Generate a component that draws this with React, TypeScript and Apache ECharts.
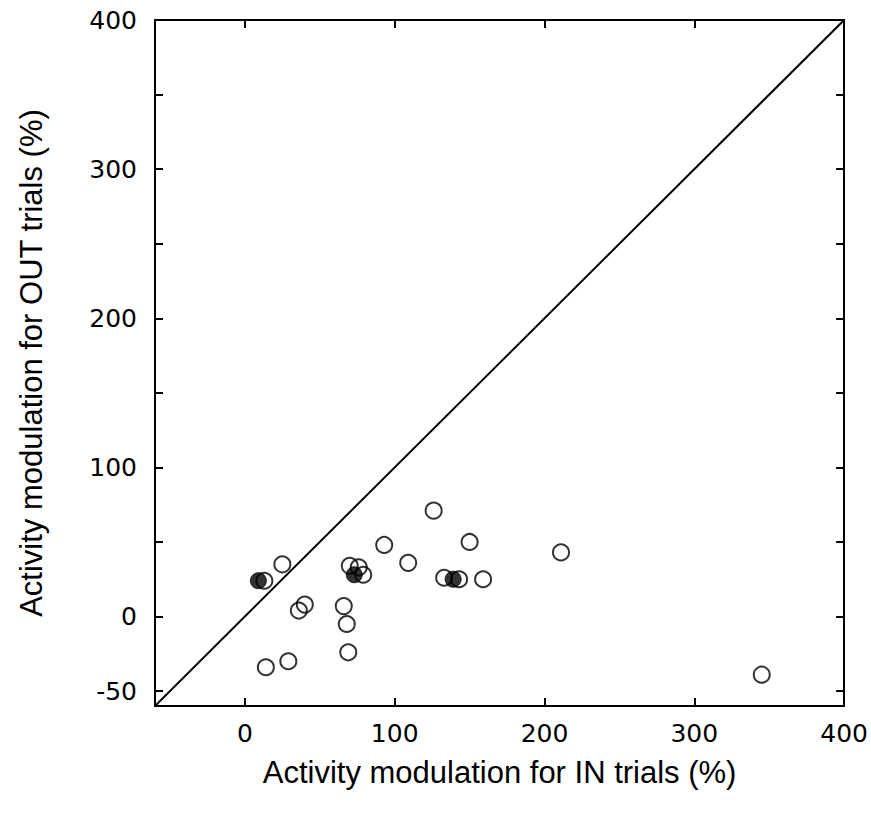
import React, { useEffect, useRef } from "react";
import * as echarts from "echarts";

const xTickValues = [0, 100, 200, 300];
const xLabelValues = [0, 100, 200, 300, 400];
const yTickValues = [-50, 0, 50, 100, 150, 200, 250, 300, 350];
const yLabelValues = [-50, 0, 100, 200, 300, 400];

const openPoints: [number, number][] = [
  [13, 24], [25, 35], [36, 4], [40, 8], [66, 7], [68, -5], [69, -24],
  [14, -34], [29, -30], [70, 34], [76, 33], [79, 28], [93, 48], [109, 36],
  [126, 71], [150, 50], [133, 26], [143, 25], [159, 25], [211, 43], [345, -39],
];
const filledPoints: [number, number][] = [[9, 24], [73, 28], [139, 25]];
const diagonal: [number, number][] = [[-60, -60], [400, 400]];

const TITLE_FONT = "'Liberation Sans', Arial, sans-serif";
const TICK_FONT = "'DejaVu Sans', sans-serif";

export default function App() {
  const ref = useRef<HTMLDivElement>(null);
  useEffect(() => {
    if (!ref.current) return;
    const chart = echarts.init(ref.current, null, { renderer: "svg" });
    const axisLine = { show: true, onZero: false, lineStyle: { color: "#000", width: 2 } };
    const tickStyle = { color: "#000", width: 2 };
    chart.setOption({
      animation: false,
      backgroundColor: "#fff",
      grid: { left: 155, top: 20, right: 25, bottom: 112, containLabel: false },
      xAxis: [
        {
          type: "value", min: -60, max: 400, position: "bottom",
          axisLine,
          axisTick: { show: true, inside: true, length: 8, customValues: xTickValues, lineStyle: tickStyle },
          axisLabel: { customValues: xLabelValues, fontSize: 25, color: "#000", fontFamily: TICK_FONT, margin: 15 },
          splitLine: { show: false },
          name: "Activity modulation for IN trials (%)",
          nameLocation: "middle", nameGap: 51,
          nameTextStyle: { fontSize: 31, color: "#000", fontFamily: TITLE_FONT },
        },
        {
          type: "value", min: -60, max: 400, position: "top",
          axisLine,
          axisTick: { show: true, inside: true, length: 8, customValues: xTickValues, lineStyle: tickStyle },
          axisLabel: { show: false },
          splitLine: { show: false },
        },
      ],
      yAxis: [
        {
          type: "value", min: -60, max: 400, position: "left",
          axisLine,
          axisTick: { show: true, inside: true, length: 8, customValues: yTickValues, lineStyle: tickStyle },
          axisLabel: { customValues: yLabelValues, fontSize: 25, color: "#000", fontFamily: TICK_FONT, margin: 18 },
          splitLine: { show: false },
          name: "Activity modulation for OUT trials (%)",
          nameLocation: "middle", nameGap: 108, nameRotate: 90,
          nameTextStyle: { fontSize: 31, color: "#000", fontFamily: TITLE_FONT },
        },
        {
          type: "value", min: -60, max: 400, position: "right",
          axisLine,
          axisTick: { show: true, inside: true, length: 8, customValues: yTickValues, lineStyle: tickStyle },
          axisLabel: { show: false },
          splitLine: { show: false },
        },
      ],
      series: [
        {
          type: "line", data: diagonal, symbol: "none", silent: true,
          lineStyle: { color: "#000", width: 2 },
          xAxisIndex: 0, yAxisIndex: 0,
        },
        {
          type: "scatter", data: openPoints, symbol: "circle", symbolSize: 16,
          itemStyle: { color: "rgba(0,0,0,0)", borderColor: "#000", borderWidth: 2 },
          xAxisIndex: 0, yAxisIndex: 0,
        },
        {
          type: "scatter", data: filledPoints, symbol: "circle", symbolSize: 16,
          itemStyle: { color: "#000", borderColor: "#000", borderWidth: 1 },
          xAxisIndex: 0, yAxisIndex: 0,
        },
      ],
    });
    return () => chart.dispose();
  }, []);
  return <div ref={ref} style={{ width: 871, height: 818, position: "absolute", left: 0, top: 0 }} />;
}
